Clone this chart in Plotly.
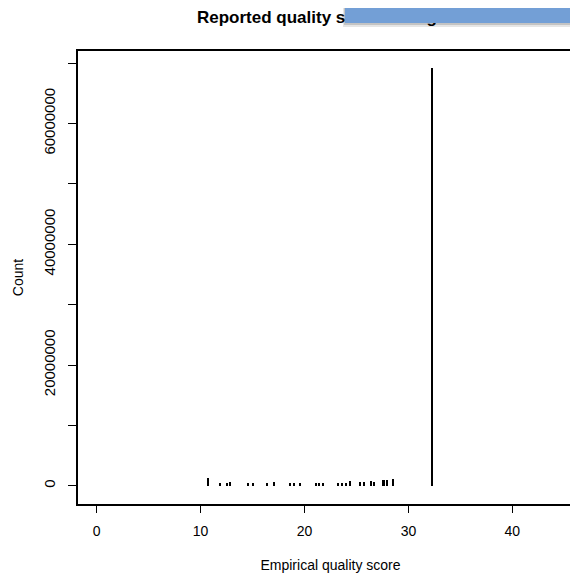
import plotly.graph_objects as go

# Empirical quality score values and their counts
scores = [10.7, 11.9, 12.5, 12.8, 14.6, 15.0, 16.4, 17.1, 18.6, 19.0, 19.6,
          21.1, 21.4, 21.8, 23.2, 23.6, 24.0, 24.4, 25.3, 25.7, 26.4, 26.7,
          27.6, 27.9, 28.5, 32.3]
counts = [1300000, 400000, 500000, 700000, 400000, 400000, 400000, 600000,
          400000, 400000, 400000, 400000, 400000, 400000, 400000, 500000,
          500000, 800000, 600000, 600000, 800000, 600000, 1000000, 1000000,
          1200000, 69200000]

x_ticks = [0, 10, 20, 30, 40]
y_ticks = [0, 20000000, 40000000, 60000000]
y_tick_labels = ["0", "20000000", "40000000", "60000000"]

title_text = "Reported quality score histogram"
x_title = "Empirical quality score"
y_title = "Count"

FONT = "Liberation Sans, Arial, Helvetica, sans-serif"

# page body has an 8px margin, so the figure is laid out 8px up/left
L, T, R, B = 70, 43, 3, 79
W, H = 578, 575
PW = W - L - R
PH = H - T - B

fig = go.Figure()
fig.add_trace(go.Bar(x=scores, y=counts, width=0.2,
                     marker=dict(color="black", line=dict(width=0)),
                     showlegend=False))

fig.update_layout(
    width=W, height=H,
    margin=dict(l=L, r=R, t=T, b=B, autoexpand=False),
    paper_bgcolor="white", plot_bgcolor="white",
    font=dict(family=FONT, size=14, color="black"),
    bargap=0,
)

fig.update_xaxes(range=[-1.8, 46.8], tickmode="array", tickvals=x_ticks,
                 ticks="outside", ticklen=7, tickwidth=1, tickcolor="black",
                 showline=True, linecolor="black", linewidth=1.5, mirror=True,
                 showgrid=False, zeroline=False, ticklabelstandoff=6,
                 title=dict(text=x_title, standoff=23, font=dict(size=14)))
fig.update_yaxes(range=[-3000000, 72000000], tickmode="array", tickvals=y_ticks,
                 ticktext=y_tick_labels, tickangle=-90, tickfont=dict(size=15),
                 ticks="outside", ticklen=8, tickwidth=1, tickcolor="black",
                 minor=dict(dtick=10000000, tick0=0, ticks="outside", ticklen=8,
                            tickwidth=1, tickcolor="black", showgrid=False),
                 showline=True, linecolor="black", linewidth=1.5, mirror=False,
                 showgrid=False, zeroline=False, ticklabelstandoff=7,
                 title=dict(text=y_title, standoff=14, font=dict(size=14)))

# chart title (as annotation so the blue overlay box can sit on top of it)
fig.add_annotation(text="<b>" + title_text + "</b>", xref="paper", yref="paper",
                   x=(324 - L) / PW, y=1 + (T - 9) / PH, xanchor="center",
                   yanchor="middle", showarrow=False,
                   font=dict(size=17, family=FONT, color="black"))
# soft shadow of the overlay box
fig.add_annotation(text=" ", xref="paper", yref="paper",
                   x=(335 - L) / PW, y=1 + (T + 8) / PH, xanchor="left", yanchor="top",
                   width=260, height=27, borderpad=0, borderwidth=0,
                   bgcolor="rgba(0,0,0,0.10)", showarrow=False)
fig.add_annotation(text=" ", xref="paper", yref="paper",
                   x=(336 - L) / PW, y=1 + (T + 8) / PH, xanchor="left", yanchor="top",
                   width=260, height=25, borderpad=0, borderwidth=0,
                   bgcolor="rgba(0,0,0,0.15)", showarrow=False)
# blue overlay box
fig.add_annotation(text=" ", xref="paper", yref="paper",
                   x=(337 - L) / PW, y=1 + (T + 8) / PH, xanchor="left", yanchor="top",
                   width=260, height=23, borderpad=0, borderwidth=0,
                   bgcolor="#739fd6", showarrow=False)

fig.write_html("out.html")
